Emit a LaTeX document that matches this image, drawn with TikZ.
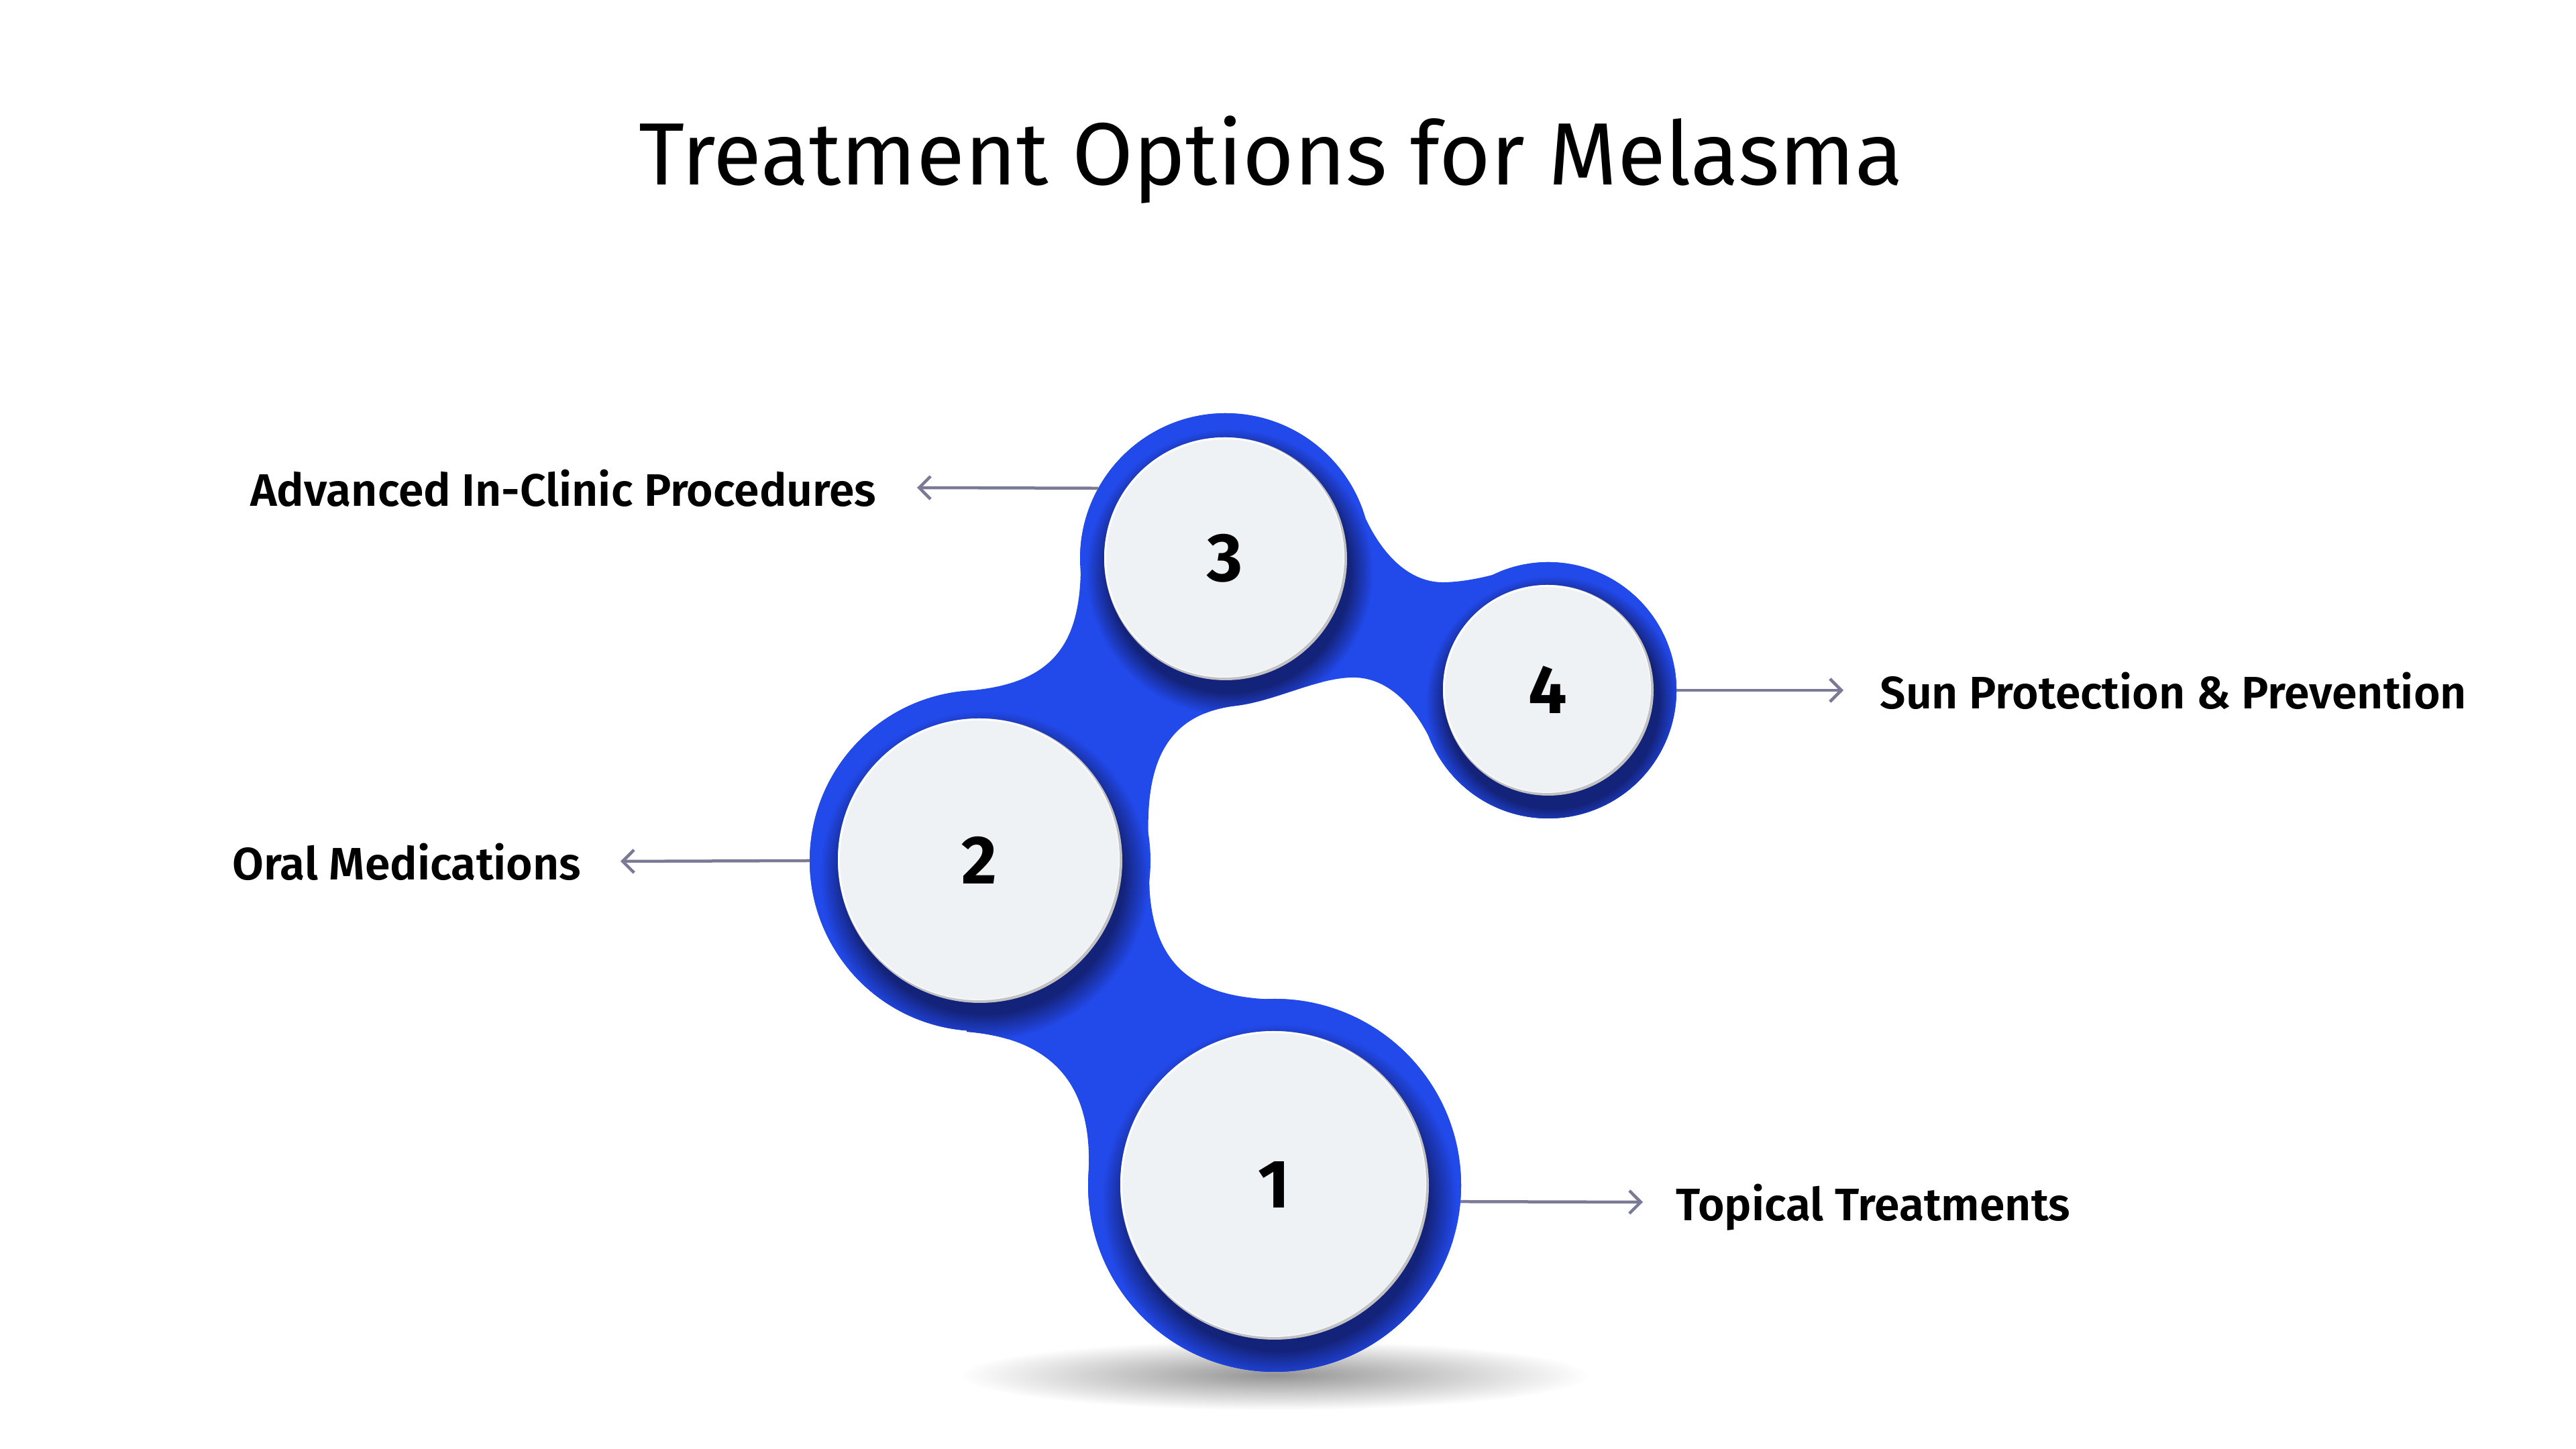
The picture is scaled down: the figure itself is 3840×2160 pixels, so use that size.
\documentclass[tikz,border=0pt]{standalone}
\usepackage{fontspec}
\setmainfont{Fira Sans}[BoldFont={Fira Sans SemiBold}]
\newfontfamily\numfont{Fira Sans Bold}
\usetikzlibrary{positioning,arrows.meta}

\definecolor{mainblue}{RGB}{34,73,234}
\definecolor{shadowblue}{RGB}{20,35,122}
\definecolor{discfill}{RGB}{239,242,244}
\definecolor{rimgray}{RGB}{194,194,196}
\definecolor{arrowgray}{RGB}{122,122,150}

\pgfdeclareradialshading{discshadow}{\pgfpoint{0bp}{0bp}}{%
  color(0bp)=(shadowblue); color(21bp)=(shadowblue);
  color(25bp)=(mainblue); color(50bp)=(mainblue)}

\tikzset{
  ring/.style = {circle, inner sep=0pt, outer sep=0pt},
  disc/.style = {circle, fill=discfill, inner sep=0pt, outer sep=0pt,
                 font=\fontsize{29pt}{34pt}\numfont},
  pointer/.style = {draw=arrowgray, line width=0.45mm,
                    -{Straight Barb[length=1.7mm,width=3.4mm]}},
  lbl/.style = {inner sep=0pt, text height=13.4pt, text depth=0pt,
                yshift=-0.4mm, font=\fontsize{19.3pt}{23pt}\selectfont\bfseries},
  heading/.style = {inner sep=0pt, text height=26.7pt, text depth=0pt,
                    font=\fontsize{37.5pt}{45pt}\selectfont}
}

% outline of the blue body: four circles and the necks between them
\newcommand{\blobpath}{%
  ([shift={(181.6:217)}]c3) arc[start angle=181.6, end angle=16.3, radius=217]
  .. controls (2060,1335) and (2100,1290) .. (2155,1292)
  .. controls (2185,1293) and (2215,1300) .. (2236,1306)
  -- ([shift={(112.4:191)}]c4) arc[start angle=112.4, end angle=-158.9, radius=191]
  .. controls (2100,1120) and (2060,1152) .. (2013,1150)
  .. controls (1960,1148) and (1900,1115) .. (1843,1108)
  .. controls (1730,1095) and (1705,1010) .. (1713,890)
  -- (1713,850)
  .. controls (1715,720) and (1780,672) .. (1905,670)
  -- ([shift={(89:278)}]c1) arc[start angle=89, end angle=-183.9, radius=278]
  .. controls (1628,520) and (1590,610) .. (1441,622)
  -- ([shift={(-94.5:254)}]c2) arc[start angle=-94.5, end angle=-265.5, radius=254]
  .. controls (1570,1140) and (1612,1200) .. (1611,1321)
  -- cycle}

\begin{document}
\begin{tikzpicture}[x=0.1mm, y=0.1mm]
  \fill[white] (0,0) rectangle (3840,2160);
  \useasboundingbox (0,0) rectangle (3840,2160);

  \coordinate (c1) at (1900,393);
  \coordinate (c2) at (1461,877);
  \coordinate (c3) at (1827,1327);
  \coordinate (c4) at (2308,1131);

  % floor shadow
  \shade[inner color=black!42, outer color=white] (1900,110) ellipse (470 and 52);

  % blue body
  \fill[mainblue] \blobpath;
  \fill[mainblue] (c1) circle (278) (c2) circle (254)
                  (c3) circle (217) (c4) circle (191);
  \node[ring, minimum size=55.6mm] (b1) at (c1) {};
  \node[ring, minimum size=50.8mm] (b2) at (c2) {};
  \node[ring, minimum size=43.4mm] (b3) at (c3) {};
  \node[ring, minimum size=38.2mm] (b4) at (c4) {};

  % shadows under the discs
  \begin{scope}
    \clip \blobpath;
    \shade[shading=discshadow] ([shift={(7,-24)}]c1) circle (265);
    \shade[shading=discshadow] ([shift={(7,-22)}]c2) circle (246);
    \shade[shading=discshadow] ([shift={(6,-20)}]c3) circle (214);
    \shade[shading=discshadow] ([shift={(6,-18)}]c4) circle (189);
  \end{scope}

  % discs
  \fill[rimgray] (c1) circle (230);
  \fill[white] ([shift={(-2,2)}]c1) circle (228);
  \node[disc, minimum size=45.2mm] (n1) at ([shift={(-1,1)}]c1) {1};

  \fill[rimgray] (c2) circle (212);
  \fill[white] ([shift={(-2,2)}]c2) circle (210);
  \node[disc, minimum size=41.6mm] (n2) at ([shift={(-1,1)}]c2) {2};

  \fill[rimgray] (c3) circle (181);
  \fill[white] ([shift={(-2,2)}]c3) circle (179);
  \node[disc, minimum size=35.4mm] (n3) at ([shift={(-1,1)}]c3) {3};

  \fill[rimgray] (c4) circle (157);
  \fill[white] ([shift={(-2,2)}]c4) circle (155);
  \node[disc, minimum size=30.6mm] (n4) at ([shift={(-1,1)}]c4) {4};

  % pointers and labels
  \coordinate (t1) at (2449,368);
  \coordinate (t2) at (925,876);
  \coordinate (t3) at (1367,1433);
  \coordinate (t4) at (2748,1131);

  \draw[pointer] (b1.-5) -- (t1);
  \draw[pointer] (b2.west) -- (t2);
  \draw[pointer] (b3.151) -- (t3);
  \draw[pointer] (b4.east) -- (t4);

  \node[lbl, right=4.9mm of t1] (l1) {Topical Treatments};
  \node[lbl, left=5.8mm of t2] (l2) {Oral Medications};
  \node[lbl, left=6mm of t3] (l3) {Advanced In-Clinic Procedures};
  \node[lbl, right=5.4mm of t4] (l4) {Sun Protection \& Prevention};

  \node[heading] (title) at (1895,1931) {Treatment Options for Melasma};
\end{tikzpicture}
\end{document}
